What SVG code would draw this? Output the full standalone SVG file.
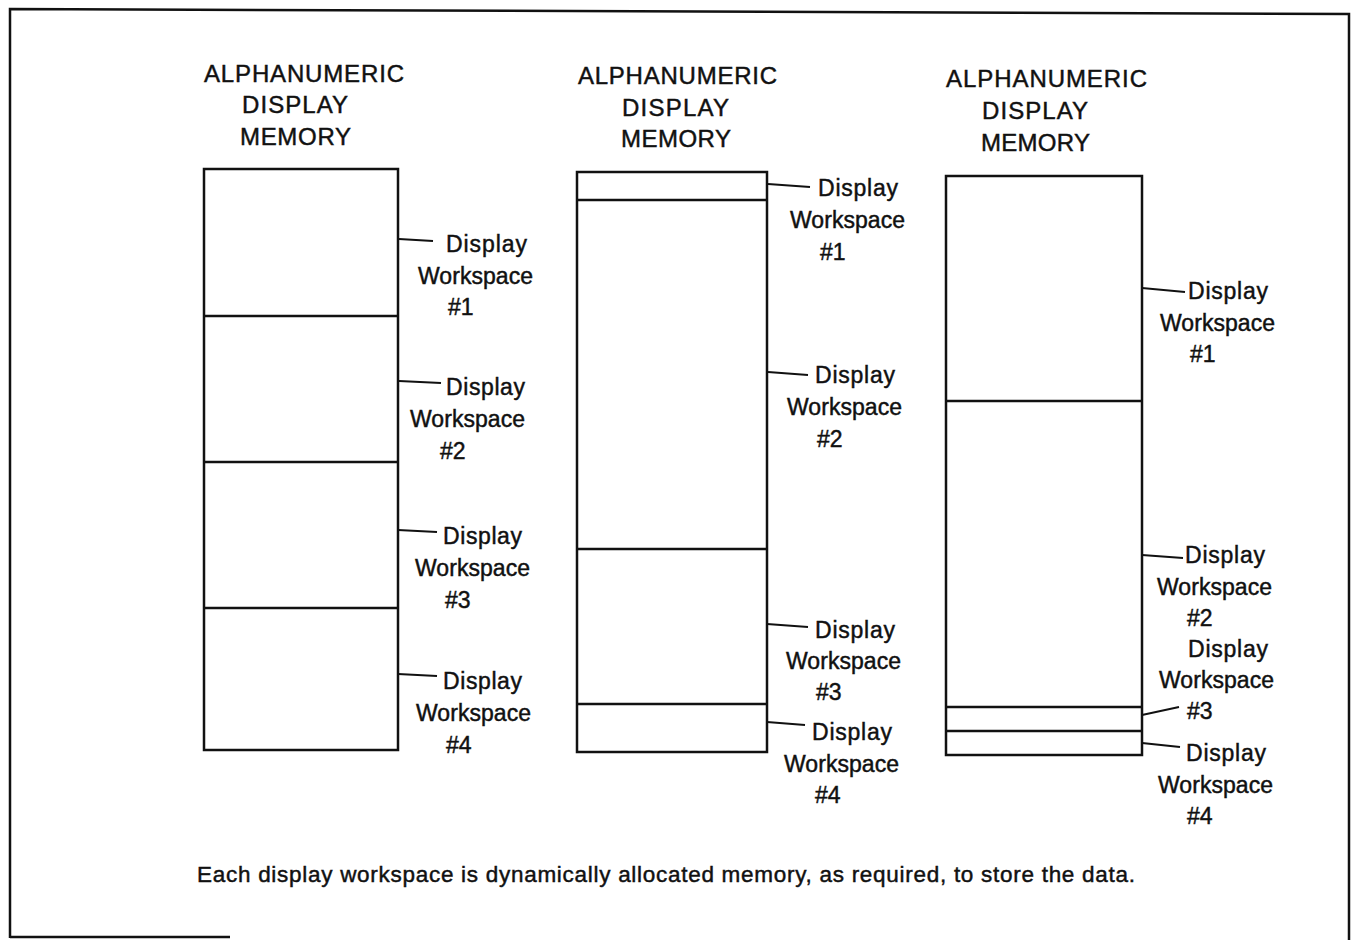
<svg xmlns="http://www.w3.org/2000/svg" width="1354" height="940" viewBox="0 0 1354 940">
<style>
text{font-family:"Liberation Sans",Arial,sans-serif;font-size:23px;fill:#111;stroke:#111;stroke-width:0.45}
.t{font-size:24px}
.cap{font-size:22.5px}
.box,.div,.frame{fill:none;stroke:#111;stroke-width:2.5}
.con line{stroke:#111;stroke-width:2}
</style>
<rect width="1354" height="940" fill="#fff"/>
<g id="frame" class="frame">
<polyline points="10,938 10,9 1349,14 1349,940"/>
<line x1="10" y1="937" x2="230" y2="937"/>
</g>
<g id="mem1">
<text class="t" x="204" y="82" textLength="200" lengthAdjust="spacing">ALPHANUMERIC</text>
<text class="t" x="242" y="113" textLength="106" lengthAdjust="spacing">DISPLAY</text>
<text class="t" x="240" y="145" textLength="111" lengthAdjust="spacing">MEMORY</text>
<rect class="box" x="204" y="169" width="194" height="581"/>
<line class="div" x1="204" y1="316" x2="398" y2="316"/>
<line class="div" x1="204" y1="462" x2="398" y2="462"/>
<line class="div" x1="204" y1="608" x2="398" y2="608"/>
</g>
<g id="mem2">
<text class="t" x="578" y="84" textLength="199" lengthAdjust="spacing">ALPHANUMERIC</text>
<text class="t" x="622" y="116" textLength="107" lengthAdjust="spacing">DISPLAY</text>
<text class="t" x="621" y="147" textLength="110" lengthAdjust="spacing">MEMORY</text>
<rect class="box" x="577" y="172" width="190" height="580"/>
<line class="div" x1="577" y1="200" x2="767" y2="200"/>
<line class="div" x1="577" y1="549" x2="767" y2="549"/>
<line class="div" x1="577" y1="704" x2="767" y2="704"/>
</g>
<g id="mem3">
<text class="t" x="946" y="87" textLength="201" lengthAdjust="spacing">ALPHANUMERIC</text>
<text class="t" x="982" y="119" textLength="106" lengthAdjust="spacing">DISPLAY</text>
<text class="t" x="981" y="151" textLength="109" lengthAdjust="spacing">MEMORY</text>
<rect class="box" x="946" y="176" width="196" height="579"/>
<line class="div" x1="946" y1="401" x2="1142" y2="401"/>
<line class="div" x1="946" y1="707" x2="1142" y2="707"/>
<line class="div" x1="946" y1="731" x2="1142" y2="731"/>
</g>
<g id="connectors" class="con">
<line x1="399" y1="239" x2="433" y2="241"/>
<line x1="399" y1="381" x2="441" y2="383"/>
<line x1="398" y1="530" x2="437" y2="532"/>
<line x1="398" y1="674" x2="437" y2="676"/>
<line x1="768" y1="184" x2="810" y2="187"/>
<line x1="768" y1="372" x2="808" y2="375"/>
<line x1="767" y1="624" x2="808" y2="627"/>
<line x1="767" y1="722" x2="805" y2="725"/>
<line x1="1142" y1="288" x2="1185" y2="292"/>
<line x1="1142" y1="555" x2="1183" y2="558"/>
<line x1="1142" y1="715" x2="1179" y2="707"/>
<line x1="1142" y1="743" x2="1180" y2="747"/>
</g>
<g id="labels1">
<text x="446" y="252" textLength="81" lengthAdjust="spacing">Display</text>
<text x="418" y="284" textLength="115" lengthAdjust="spacing">Workspace</text>
<text x="448" y="315">#1</text>
<text x="446" y="395" textLength="79" lengthAdjust="spacing">Display</text>
<text x="410" y="427" textLength="115" lengthAdjust="spacing">Workspace</text>
<text x="440" y="459">#2</text>
<text x="443" y="544" textLength="79" lengthAdjust="spacing">Display</text>
<text x="415" y="576" textLength="115" lengthAdjust="spacing">Workspace</text>
<text x="445" y="608">#3</text>
<text x="443" y="689" textLength="79" lengthAdjust="spacing">Display</text>
<text x="416" y="721" textLength="115" lengthAdjust="spacing">Workspace</text>
<text x="446" y="753">#4</text>
</g>
<g id="labels2">
<text x="818" y="196" textLength="80" lengthAdjust="spacing">Display</text>
<text x="790" y="228" textLength="115" lengthAdjust="spacing">Workspace</text>
<text x="820" y="260">#1</text>
<text x="815" y="383" textLength="80" lengthAdjust="spacing">Display</text>
<text x="787" y="415" textLength="115" lengthAdjust="spacing">Workspace</text>
<text x="817" y="447">#2</text>
<text x="815" y="638" textLength="80" lengthAdjust="spacing">Display</text>
<text x="786" y="669" textLength="115" lengthAdjust="spacing">Workspace</text>
<text x="816" y="700">#3</text>
<text x="812" y="740" textLength="80" lengthAdjust="spacing">Display</text>
<text x="784" y="772" textLength="115" lengthAdjust="spacing">Workspace</text>
<text x="815" y="803">#4</text>
</g>
<g id="labels3">
<text x="1188" y="299" textLength="80" lengthAdjust="spacing">Display</text>
<text x="1160" y="331" textLength="115" lengthAdjust="spacing">Workspace</text>
<text x="1190" y="362">#1</text>
<text x="1185" y="563" textLength="80" lengthAdjust="spacing">Display</text>
<text x="1157" y="595" textLength="115" lengthAdjust="spacing">Workspace</text>
<text x="1187" y="626">#2</text>
<text x="1188" y="657" textLength="80" lengthAdjust="spacing">Display</text>
<text x="1159" y="688" textLength="115" lengthAdjust="spacing">Workspace</text>
<text x="1187" y="719">#3</text>
<text x="1186" y="761" textLength="80" lengthAdjust="spacing">Display</text>
<text x="1158" y="793" textLength="115" lengthAdjust="spacing">Workspace</text>
<text x="1187" y="824">#4</text>
</g>
<text id="caption" class="cap" x="197" y="882" textLength="938" lengthAdjust="spacing">Each display workspace is dynamically allocated memory, as required, to store the data.</text>
</svg>
